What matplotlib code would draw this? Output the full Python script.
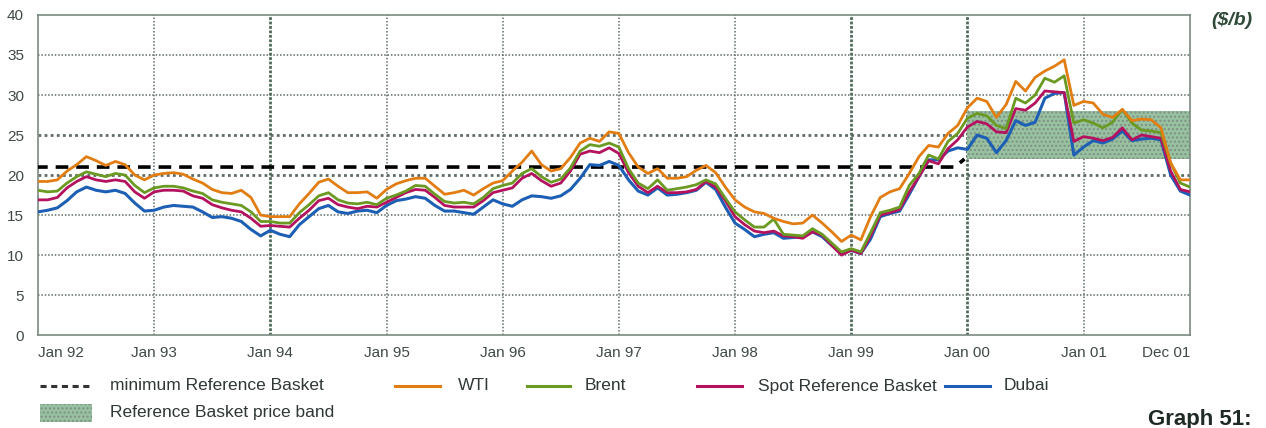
import numpy as np
import matplotlib.pyplot as plt
from matplotlib.lines import Line2D
from matplotlib.patches import Rectangle

plt.rcParams["font.family"] = ["Liberation Sans", "DejaVu Sans"]

# monthly crude prices, Jan 1992 .. Dec 2001 ($/b)
wti = [
    19.2, 19.2, 19.4, 20.5, 21.3, 22.3, 21.8, 21.2, 21.7, 21.3, 20.0, 19.4,
    20.0, 20.2, 20.3, 20.1, 19.5, 19.0, 18.2, 17.8, 17.7, 18.1, 17.2, 15.0,
    14.8, 14.8, 14.8, 16.4, 17.7, 19.1, 19.5, 18.6, 17.8, 17.8, 17.9, 17.1,
    18.2, 18.9, 19.3, 19.6, 19.6, 18.6, 17.6, 17.8, 18.1, 17.5, 18.3, 19.0,
    19.3, 20.5, 21.6, 23.0, 21.3, 20.5, 20.8, 22.2, 24.0, 24.6, 24.2, 25.4,
    25.2, 22.8, 21.0, 20.2, 20.8, 19.6, 19.6, 19.8, 20.6, 21.2, 20.3, 18.5,
    16.9, 16.0, 15.4, 15.2, 14.6, 14.2, 13.9, 14.0, 15.0, 14.0, 12.9, 11.7,
    12.5, 11.9, 14.8, 17.2, 17.9, 18.3, 20.2, 22.3, 23.7, 23.5, 25.2, 26.2,
    28.4, 29.6, 29.2, 27.2, 28.8, 31.7, 30.5, 32.2, 33.0, 33.6, 34.4, 28.7,
    29.2, 29.0, 27.6, 27.2, 28.2, 26.8, 27.0, 26.9, 25.9, 21.5, 19.4, 19.4,
]
brent = [
    18.1, 17.9, 18.0, 19.0, 19.8, 20.4, 20.1, 19.8, 20.2, 20.0, 18.7, 17.8,
    18.4, 18.6, 18.6, 18.4, 18.0, 17.7, 16.9, 16.6, 16.4, 16.2, 15.4, 14.2,
    14.2, 14.0, 14.0, 15.3, 16.3, 17.4, 17.8, 16.9, 16.5, 16.4, 16.6, 16.3,
    17.1, 17.5, 18.0, 18.7, 18.6, 17.6, 16.7, 16.5, 16.6, 16.4, 17.2, 18.3,
    18.7, 19.0, 20.2, 20.8, 19.8, 19.1, 19.5, 20.9, 23.0, 23.8, 23.6, 24.0,
    23.5, 20.8, 19.0, 18.3, 19.4, 18.1, 18.3, 18.5, 18.8, 19.4, 18.9, 17.1,
    15.4, 14.4, 13.5, 13.5, 14.5, 12.6, 12.5, 12.4, 13.3, 12.6, 11.5, 10.4,
    10.8, 10.4, 12.8, 15.3, 15.6, 16.0, 18.7, 20.2, 22.5, 22.0, 24.2, 25.2,
    27.1, 27.7, 27.4, 26.2, 25.8, 29.6, 29.0, 30.0, 32.1, 31.6, 32.4, 26.5,
    26.9, 26.5, 25.9, 26.6, 28.2, 26.5, 25.6, 25.5, 25.3, 21.5, 19.0, 18.5,
]
spot_basket = [
    16.9, 16.9, 17.2, 18.4, 19.2, 19.8, 19.4, 19.2, 19.4, 19.2, 17.9, 17.1,
    17.9, 18.1, 18.1, 18.0, 17.4, 17.1, 16.3, 15.9, 15.6, 15.4, 14.6, 13.6,
    13.7, 13.6, 13.5, 14.6, 15.6, 16.8, 17.1, 16.3, 16.0, 15.8, 16.1, 16.0,
    16.6, 17.2, 17.8, 18.2, 18.1, 17.2, 16.2, 16.0, 16.0, 16.0, 16.8, 17.8,
    18.1, 18.4, 19.6, 20.2, 19.3, 18.6, 19.0, 20.5, 22.6, 23.0, 22.8, 23.4,
    22.7, 20.3, 18.6, 17.8, 18.6, 17.8, 17.8, 17.9, 18.2, 19.2, 18.5, 16.8,
    14.8, 13.8, 13.0, 12.8, 13.0, 12.4, 12.3, 12.1, 12.9, 12.5, 11.2, 10.0,
    10.6, 10.2, 12.4, 15.0, 15.3, 15.7, 17.9, 19.8, 21.8, 21.4, 23.3, 24.4,
    26.0, 26.7, 26.4, 25.4, 25.3, 28.3, 28.1, 29.0, 30.5, 30.4, 30.3, 24.2,
    24.8, 24.6, 24.3, 24.7, 25.9, 24.4, 25.0, 24.8, 24.6, 20.5, 18.2, 17.9,
]
dubai = [
    15.4, 15.6, 15.9, 16.8, 17.9, 18.5, 18.1, 17.9, 18.1, 17.7, 16.5, 15.5,
    15.6, 16.0, 16.2, 16.1, 16.0, 15.4, 14.7, 14.8, 14.6, 14.2, 13.2, 12.4,
    13.1, 12.6, 12.3, 13.8, 14.8, 15.8, 16.2, 15.4, 15.2, 15.5, 15.6, 15.3,
    16.2, 16.8, 17.0, 17.3, 17.1, 16.2, 15.5, 15.5, 15.3, 15.1, 16.0, 16.9,
    16.4, 16.1, 16.9, 17.4, 17.3, 17.1, 17.4, 18.2, 19.6, 21.3, 21.2, 21.7,
    21.2, 19.4, 18.0, 17.5, 18.4, 17.5, 17.6, 17.8, 18.1, 19.1, 18.2, 16.0,
    14.0, 13.2, 12.3, 12.6, 12.8, 12.1, 12.2, 12.3, 12.9, 12.3, 11.2, 10.2,
    10.6, 10.2, 12.0, 14.8, 15.2, 15.5, 17.6, 19.8, 21.9, 21.9, 23.0, 23.4,
    23.2, 25.0, 24.6, 22.8, 24.3, 26.8, 26.2, 26.6, 29.6, 30.2, 30.3, 22.5,
    23.5, 24.3, 24.0, 24.5, 25.5, 24.3, 24.5, 24.6, 24.4, 20.0, 18.0, 17.5,
]

# minimum reference basket price and the OPEC price band (from Jan 2000)
min_basket = [21.0] * 96 + [22.0]
band_low, band_high = 22, 28
band_start = 96

tick_months = [0, 12, 24, 36, 48, 60, 72, 84, 96, 108, 119]
tick_labels = ["Jan 92", "Jan 93", "Jan 94", "Jan 95", "Jan 96", "Jan 97",
               "Jan 98", "Jan 99", "Jan 00", "Jan 01", "Dec 01"]

months = np.arange(len(wti))
min_months = np.arange(len(min_basket)) - 0.3

fig = plt.figure(figsize=(12.66, 4.28), dpi=100)
ax = fig.add_axes([0.030, 0.217, 0.910, 0.748])

grid_c = "#5e6b63"
for y in range(5, 40, 5):
    lw = 2.0 if y in (20, 25) else 1.1
    ax.axhline(y, color=grid_c, lw=lw, ls=(0, (1, 1.2)), zorder=1)
for m in tick_months[1:-1]:
    heavy = m in (24, 84, 96)
    ax.axvline(m, color="#4f6a5a" if heavy else grid_c, lw=2.0 if heavy else 1.1,
               ls=(0, (1, 0.6)) if heavy else (0, (1, 1.2)), zorder=1)

# price band
band = Rectangle((band_start, band_low), months[-1] - band_start, band_high - band_low,
                 facecolor="#98c1a0", edgecolor="#7f8f86", hatch="....", lw=0, zorder=2)
ax.add_patch(band)

ax.plot(min_months, min_basket, color="black", lw=2.6, ls=(0, (3.5, 2.2)), zorder=3)
ax.plot(months, dubai, color="#1d5fb5", lw=2.2, zorder=4)
ax.plot(months, spot_basket, color="#b4125e", lw=2.0, zorder=5)
ax.plot(months, brent, color="#6b9a22", lw=2.0, zorder=6)
ax.plot(months, wti, color="#e27d12", lw=2.0, zorder=7)

ax.set_xlim(0, 119)
ax.set_ylim(0, 40)
ax.set_yticks(range(0, 45, 5))
ax.set_xticks(tick_months)
ax.set_xticklabels(tick_labels)
ax.tick_params(length=0, labelsize=11, colors="#3f4a44", pad=8)
ax.tick_params(axis="y", pad=10)
xlabels = ax.get_xticklabels()
xlabels[0].set_horizontalalignment("left")
xlabels[0].set_x(-1.0)
xlabels[-1].set_horizontalalignment("right")
for s in ax.spines.values():
    s.set_color("#7a8a80")
    s.set_linewidth(1.2)

fig.text(0.973, 0.952, "($/b)", fontsize=14, fontstyle="italic", fontweight="bold",
         color="#2f4a38", ha="center", va="center")

# legend drawn below the axes
def legend_line(x0, x1, y, **kw):
    fig.add_artist(Line2D([x0, x1], [y, y], transform=fig.transFigure, **kw))

legend_y1 = 1 - 386 / 428
legend_y2 = 1 - 413 / 428
txt = dict(fontsize=12.5, color="#2f3833", va="center")

legend_line(40 / 1266, 92 / 1266, legend_y1, color="#333333", lw=2.2, ls=(0, (2, 1.5)))
fig.text(110 / 1266, legend_y1, "minimum Reference Basket", **txt)
legend_line(395 / 1266, 440 / 1266, legend_y1, color="#e27d12", lw=2.2)
fig.text(458 / 1266, legend_y1, "WTI", **txt)
legend_line(527 / 1266, 570 / 1266, legend_y1, color="#6b9a22", lw=2.2)
fig.text(585 / 1266, legend_y1, "Brent", **txt)
legend_line(697 / 1266, 742 / 1266, legend_y1, color="#b4125e", lw=2.2)
fig.text(758 / 1266, legend_y1, "Spot Reference Basket", **txt)
legend_line(945 / 1266, 990 / 1266, legend_y1, color="#1d5fb5", lw=2.2)
fig.text(1004 / 1266, legend_y1, "Dubai", **txt)

fig.add_artist(Rectangle((40 / 1266, 1 - 422 / 428), 52 / 1266, 18 / 428,
                         transform=fig.transFigure, facecolor="#98c1a0",
                         edgecolor="#7f8f86", hatch="....", lw=0))
fig.text(110 / 1266, legend_y2, "Reference Basket price band", **txt)

fig.text(1148 / 1266, 1 - 420 / 428, "Graph 51:", fontsize=16, fontweight="bold",
         color="#1f2a24", va="center")

fig.savefig("out.png", dpi=100)
